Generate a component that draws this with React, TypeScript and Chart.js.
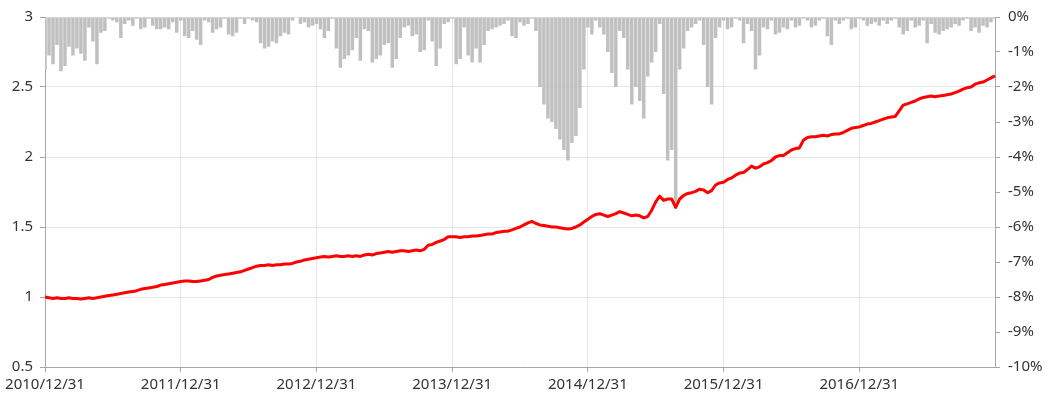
import React, { useEffect, useRef } from "react";
import { Chart, registerables } from "chart.js";

Chart.register(...registerables);

// Year-end tick labels (one every 34 samples)
const yearLabels = ["2010/12/31", "2011/12/31", "2012/12/31", "2013/12/31", "2014/12/31", "2015/12/31", "2016/12/31"];
const samplesPerYear = 34;

// Net asset value (left axis)
const nav2011 = [1.0, 0.995, 0.99, 0.995, 0.99, 0.99, 0.995, 0.99, 0.99, 0.985, 0.99, 0.995, 0.99, 0.995, 1.0, 1.005, 1.01, 1.015, 1.02, 1.025, 1.03, 1.035, 1.04, 1.045, 1.055, 1.06, 1.065, 1.07, 1.075, 1.085, 1.09, 1.095, 1.1, 1.105];
const nav2012 = [1.11, 1.115, 1.115, 1.11, 1.11, 1.115, 1.12, 1.125, 1.14, 1.15, 1.155, 1.16, 1.165, 1.17, 1.175, 1.18, 1.19, 1.2, 1.21, 1.22, 1.225, 1.225, 1.23, 1.225, 1.23, 1.23, 1.235, 1.235, 1.24, 1.25, 1.255, 1.265, 1.27, 1.275];
const nav2013 = [1.28, 1.285, 1.29, 1.285, 1.29, 1.295, 1.29, 1.29, 1.295, 1.29, 1.295, 1.29, 1.3, 1.305, 1.3, 1.31, 1.315, 1.32, 1.325, 1.32, 1.325, 1.33, 1.33, 1.325, 1.33, 1.335, 1.33, 1.34, 1.37, 1.375, 1.39, 1.4, 1.41, 1.43];
const nav2014 = [1.43, 1.43, 1.425, 1.43, 1.43, 1.435, 1.435, 1.44, 1.445, 1.45, 1.45, 1.46, 1.465, 1.47, 1.47, 1.48, 1.49, 1.5, 1.515, 1.53, 1.54, 1.525, 1.515, 1.51, 1.505, 1.5, 1.5, 1.495, 1.49, 1.485, 1.49, 1.5, 1.515, 1.535];
const nav2015 = [1.555, 1.575, 1.59, 1.595, 1.585, 1.575, 1.585, 1.595, 1.61, 1.6, 1.59, 1.58, 1.585, 1.58, 1.565, 1.575, 1.62, 1.68, 1.72, 1.69, 1.7, 1.7, 1.64, 1.7, 1.725, 1.74, 1.745, 1.755, 1.77, 1.765, 1.745, 1.76, 1.8, 1.815];
const nav2016 = [1.82, 1.84, 1.85, 1.87, 1.885, 1.89, 1.91, 1.935, 1.92, 1.93, 1.95, 1.96, 1.975, 2.0, 2.01, 2.01, 2.03, 2.05, 2.06, 2.065, 2.12, 2.14, 2.145, 2.145, 2.15, 2.155, 2.15, 2.16, 2.165, 2.165, 2.175, 2.19, 2.205, 2.21];
const nav2017 = [2.215, 2.225, 2.235, 2.24, 2.25, 2.26, 2.27, 2.28, 2.285, 2.29, 2.33, 2.37, 2.38, 2.39, 2.4, 2.415, 2.425, 2.43, 2.435, 2.43, 2.435, 2.44, 2.445, 2.45, 2.46, 2.47, 2.485, 2.495, 2.5, 2.52, 2.53, 2.535, 2.55, 2.565, 2.58];

// Drawdown in % (right axis)
const dd2011 = [-1.5, -1.1, -1.35, -0.8, -1.55, -1.4, -0.85, -1.1, -0.9, -1.05, -1.25, -0.3, -0.7, -1.35, -0.45, -0.4, -0.05, -0.1, -0.15, -0.6, -0.2, -0.1, -0.25, -0.05, -0.35, -0.3, -0.05, -0.25, -0.35, -0.35, -0.3, -0.35, -0.15, -0.45];
const dd2012 = [-0.1, -0.55, -0.6, -0.4, -0.65, -0.8, -0.1, -0.15, -0.45, -0.35, -0.3, -0.05, -0.5, -0.55, -0.45, -0.05, -0.2, -0.05, -0.1, -0.15, -0.75, -0.9, -0.85, -0.7, -0.75, -0.55, -0.45, -0.5, -0.1, 0, -0.2, -0.15, -0.3, -0.25];
const dd2013 = [-0.2, -0.35, -0.6, -0.4, -0.05, -0.9, -1.45, -1.2, -1.1, -0.95, -0.6, -1.25, -0.35, -0.4, -1.3, -1.2, -1.1, -0.8, -0.75, -1.45, -1.2, -0.6, -0.3, -0.25, -0.55, -0.5, -1.0, -0.95, -0.1, -0.7, -1.4, -0.9, -0.2, -0.15];
const dd2014 = [-0.05, -1.35, -1.2, -0.3, -1.1, -1.3, -0.9, -1.3, -0.8, -0.4, -0.35, -0.3, -0.25, -0.2, -0.1, -0.55, -0.6, -0.15, -0.25, -0.2, -0.05, -0.4, -2.0, -2.5, -2.9, -3.0, -3.2, -3.5, -3.8, -4.1, -3.6, -3.4, -2.6, -1.5];
const dd2015 = [-0.3, -0.5, -0.1, -0.3, -0.5, -1.0, -1.6, -2.0, -0.4, -0.6, -1.5, -2.5, -2.0, -2.4, -2.9, -1.7, -1.3, -1.0, -0.2, -2.2, -4.1, -3.8, -5.3, -1.5, -0.9, -0.4, -0.3, -0.2, -0.1, -0.8, -2.0, -2.5, -0.6, -0.3];
const dd2016 = [-0.1, -0.35, -0.3, -0.05, -0.1, -0.75, -0.2, -0.4, -1.5, -1.1, -0.3, -0.35, -0.1, -0.5, -0.45, -0.3, -0.35, -0.1, -0.3, -0.25, -0.05, -0.1, -0.3, -0.25, -0.1, -0.05, -0.55, -0.8, -0.1, -0.2, -0.1, -0.05, -0.35, -0.3];
const dd2017 = [-0.05, -0.1, -0.25, -0.2, -0.15, -0.25, -0.1, -0.2, -0.1, -0.05, -0.3, -0.5, -0.4, -0.1, -0.3, -0.25, -0.1, -0.75, -0.2, -0.45, -0.5, -0.4, -0.35, -0.3, -0.2, -0.25, -0.1, -0.05, -0.4, -0.3, -0.45, -0.25, -0.3, -0.15, -0.05];

const navValues = [...nav2011, ...nav2012, ...nav2013, ...nav2014, ...nav2015, ...nav2016, ...nav2017];
const ddValues = [...dd2011, ...dd2012, ...dd2013, ...dd2014, ...dd2015, ...dd2016, ...dd2017];

const FONT = "'Noto Sans', sans-serif";
const AXIS = "#a6a6a6";
const GRID = "#e6e6e6";
const TEXT = "#333333";

export default function App() {
  const ref = useRef<HTMLCanvasElement | null>(null);

  useEffect(() => {
    document.body.style.margin = "0";
    const canvas = ref.current;
    if (!canvas) return;
    const labels = navValues.map((_, i) => String(i));
    const isYearTick = (i: number) => i % samplesPerYear === 0 && i / samplesPerYear < yearLabels.length;

    const chart = new Chart(canvas, {
      type: "bar",
      data: {
        labels,
        datasets: [
          {
            type: "line",
            data: navValues,
            yAxisID: "y",
            borderColor: "#ff0000",
            borderWidth: 3,
            pointRadius: 0,
            tension: 0,
            borderJoinStyle: "round",
            order: 0,
          } as any,
          {
            type: "bar",
            data: ddValues,
            yAxisID: "y1",
            backgroundColor: "#c0c0c0",
            barPercentage: 0.88,
            categoryPercentage: 1,
            order: 1,
          },
        ],
      },
      options: {
        responsive: false,
        animation: false,
        layout: { padding: { top: 15, left: 0, right: 0, bottom: 0 } },
        plugins: { legend: { display: false }, tooltip: { enabled: false } },
        scales: {
          x: {
            type: "category",
            offset: false,
            grid: {
              offset: false,
              color: (ctx: any) => (isYearTick(ctx.index) ? GRID : "rgba(0,0,0,0)"),
              tickColor: (ctx: any) => (isYearTick(ctx.index) ? AXIS : "rgba(0,0,0,0)"),
              tickLength: 5,
            },
            border: { color: AXIS },
            ticks: {
              autoSkip: false,
              maxRotation: 0,
              minRotation: 0,
              padding: 4,
              color: TEXT,
              font: { family: FONT, size: 15 },
              callback: (_v: any, i: number) => (isYearTick(i) ? yearLabels[i / samplesPerYear] : ""),
            },
            afterFit: (scale: any) => {
              scale.height = 35;
            },
          },
          y: {
            type: "linear",
            position: "left",
            min: 0.5,
            max: 3,
            grid: { color: GRID, tickColor: AXIS, tickLength: 5 },
            border: { color: AXIS },
            ticks: {
              stepSize: 0.5,
              padding: 7,
              color: TEXT,
              font: { family: FONT, size: 15 },
              callback: (v: any) => String(Number(v)),
            },
            afterFit: (scale: any) => {
              scale.width = 45;
            },
          },
          y1: {
            type: "linear",
            position: "right",
            min: -10,
            max: 0,
            grid: { drawOnChartArea: false, tickColor: AXIS, tickLength: 5 },
            border: { color: AXIS },
            ticks: {
              stepSize: 1,
              padding: 8,
              color: TEXT,
              font: { family: FONT, size: 15 },
              callback: (v: any) => `${Number(v)}%`,
            },
            afterFit: (scale: any) => {
              scale.width = 55;
            },
          },
        },
      },
    });
    return () => chart.destroy();
  }, []);

  return (
    <div style={{ width: 1050, height: 402 }}>
      <canvas ref={ref} width={1050} height={402} style={{ display: "block" }} />
    </div>
  );
}
